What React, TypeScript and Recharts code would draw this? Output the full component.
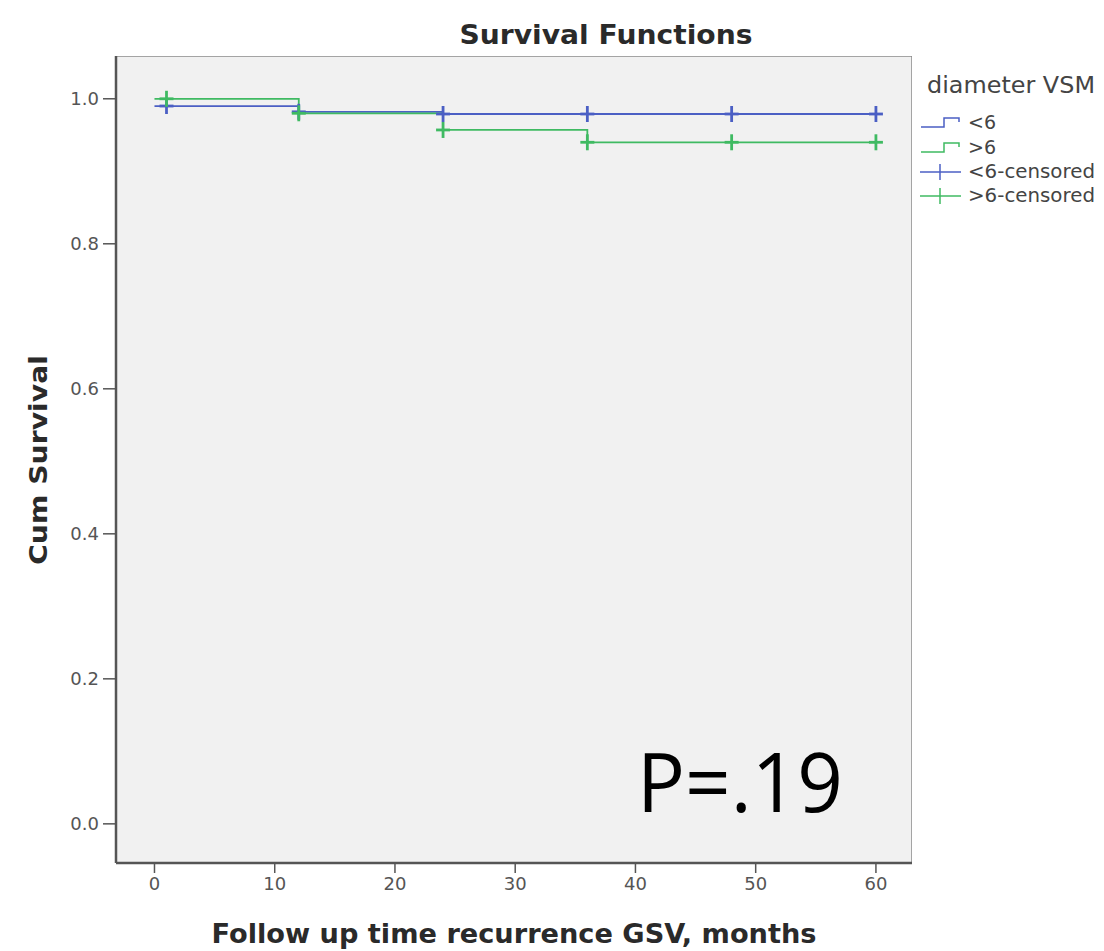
import React from 'react';
import { ComposedChart, Line, Scatter, XAxis, YAxis, ReferenceArea } from 'recharts';

// Kaplan-Meier steps, diameter VSM groups
const timesLt6 = [0, 12, 24, 60];
const survLt6 = [0.99, 0.982, 0.979, 0.979];
const timesGt6 = [0, 12, 24, 36, 60];
const survGt6 = [1.0, 0.98, 0.957, 0.94, 0.94];

// censored observations
const censorTimes = [1, 12, 24, 36, 48, 60];
const censorLt6 = [0.99, 0.982, 0.979, 0.979, 0.979, 0.979];
const censorGt6 = [1.0, 0.98, 0.957, 0.94, 0.94, 0.94];

const xTicks = [0, 10, 20, 30, 40, 50, 60];
const yTicks = [0, 0.2, 0.4, 0.6, 0.8, 1.0];

const BLUE = '#4b5fc4';
const GREEN = '#3fba62';

const lt6Data = timesLt6.map((t, i) => ({ t, s: survLt6[i] }));
const gt6Data = timesGt6.map((t, i) => ({ t, s: survGt6[i] }));
const lt6Cens = censorTimes.map((t, i) => ({ t, s: censorLt6[i] }));
const gt6Cens = censorTimes.map((t, i) => ({ t, s: censorGt6[i] }));

const Plus = (color: string) => (props: any) => {
  const { cx, cy } = props;
  return (
    <g stroke={color} strokeWidth={2.8}>
      <line x1={cx - 7} x2={cx + 7} y1={cy} y2={cy} />
      <line x1={cx} x2={cx} y1={cy - 8} y2={cy + 8} />
    </g>
  );
};

const tickStyle = { fill: '#555', fontSize: 18, fontFamily: 'DejaVu Sans' };

export default function App() {
  return (
    <div style={{ position: 'absolute', left: 0, top: 0, width: 1104, height: 951, background: '#fff' }}>
      <ComposedChart
        width={1104}
        height={951}
        margin={{ top: 56, right: 192, bottom: 48, left: 56 }}
      >
        <ReferenceArea
          x1={-3.2}
          x2={63}
          y1={-0.054}
          y2={1.059}
          fill="#f1f1f1"
          fillOpacity={1}
          stroke="#8a8a8a"
          strokeWidth={1.5}
          ifOverflow="hidden"
        />
        <XAxis
          type="number"
          dataKey="t"
          domain={[-3.2, 63]}
          ticks={xTicks}
          allowDataOverflow
          height={40}
          tick={tickStyle}
          tickLine={{ stroke: '#555', strokeWidth: 1.5 }}
          tickSize={10}
          axisLine={{ stroke: '#555', strokeWidth: 2.5 }}
          tickMargin={4}
        />
        <YAxis
          type="number"
          dataKey="s"
          domain={[-0.054, 1.059]}
          ticks={yTicks}
          allowDataOverflow
          width={60}
          tick={tickStyle}
          tickFormatter={(v: number) => v.toFixed(1)}
          tickLine={{ stroke: '#555', strokeWidth: 1.5 }}
          tickSize={13}
          axisLine={{ stroke: '#555', strokeWidth: 2.5 }}
          tickMargin={4}
        />
        <Line data={lt6Data} dataKey="s" type="stepAfter" stroke={BLUE} strokeWidth={1.8} dot={false} isAnimationActive={false} />
        <Line data={gt6Data} dataKey="s" type="stepAfter" stroke={GREEN} strokeWidth={1.8} dot={false} isAnimationActive={false} />
        <Scatter data={lt6Cens} dataKey="s" shape={Plus(BLUE)} isAnimationActive={false} />
        <Scatter data={gt6Cens} dataKey="s" shape={Plus(GREEN)} isAnimationActive={false} />

        <text x={606} y={44} textAnchor="middle" fontFamily="DejaVu Sans" fontWeight="bold" fontSize={26} fill="#2a2a2a" textLength={293} lengthAdjust="spacingAndGlyphs">
          Survival Functions
        </text>
        <text x={514} y={943} textAnchor="middle" fontFamily="DejaVu Sans" fontWeight="bold" fontSize={26} fill="#2a2a2a" textLength={605} lengthAdjust="spacingAndGlyphs">
          Follow up time recurrence GSV, months
        </text>
        <text x={47} y={460} textAnchor="middle" fontFamily="DejaVu Sans" fontWeight="bold" fontSize={25} fill="#2a2a2a" transform="rotate(-90 47 460)" textLength={210} lengthAdjust="spacingAndGlyphs">
          Cum Survival
        </text>

        {/* legend */}
        <g fontFamily="DejaVu Sans" fill="#444">
          <text x={927} y={93} fontSize={23} textLength={168} lengthAdjust="spacingAndGlyphs">diameter VSM</text>
          <path d="M921 127 H944 V118 H959 V122" stroke={BLUE} fill="none" strokeWidth={1.5} />
          <text x={968} y={129} fontSize={19}>&lt;6</text>
          <path d="M921 152 H944 V143 H959 V147" stroke={GREEN} fill="none" strokeWidth={1.5} />
          <text x={968} y={154} fontSize={19}>&gt;6</text>
          <g stroke={BLUE} strokeWidth={1.5}>
            <line x1={920} x2={961} y1={172} y2={172} />
            <line x1={940} x2={940} y1={164} y2={180} />
          </g>
          <text x={968} y={178} fontSize={19} textLength={127} lengthAdjust="spacingAndGlyphs">&lt;6-censored</text>
          <g stroke={GREEN} strokeWidth={1.5}>
            <line x1={920} x2={961} y1={196} y2={196} />
            <line x1={940} x2={940} y1={188} y2={204} />
          </g>
          <text x={968} y={202} fontSize={19} textLength={127} lengthAdjust="spacingAndGlyphs">&gt;6-censored</text>
        </g>
      </ComposedChart>
      <svg width={1104} height={951} style={{ position: 'absolute', left: 0, top: 0, pointerEvents: 'none' }}>
        <text x={637} y={812} fontFamily="Open Sans" fontSize={82} fill="#000" textLength={206} lengthAdjust="spacingAndGlyphs">
          P=.19
        </text>
      </svg>
    </div>
  );
}
